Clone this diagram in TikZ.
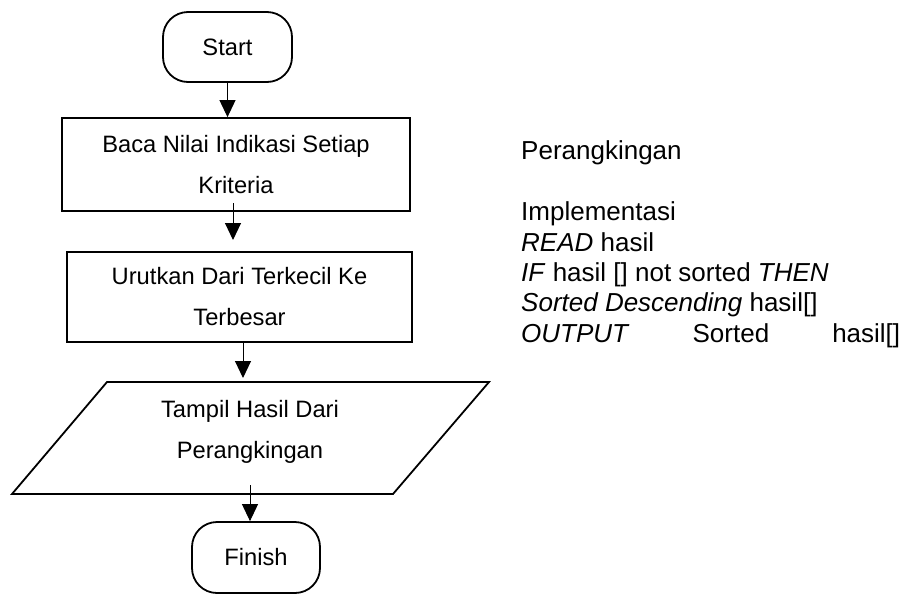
\documentclass[tikz,border=0pt]{standalone}
\usepackage{fontspec}
\setmainfont{Liberation Sans}
\usetikzlibrary{arrows.meta}
\begin{document}
\begin{tikzpicture}[x=1pt,y=-1pt,
  flowtext/.style={font=\fontsize{23.7}{41}\selectfont, align=center, inner sep=0pt},
  terminal/.style={flowtext, draw, line width=1.8pt, rounded corners=25pt},
  process/.style={flowtext, draw, line width=1.8pt},
  arr/.style={line width=1pt, -{Triangle[length=17pt,width=16pt]}},
  codeline/.style={font=\fontsize{26}{30}\selectfont, anchor=base west, inner sep=0pt}]
\useasboundingbox (0,0) rectangle (911,595);

% flowchart blocks
\node[terminal, minimum width=129, minimum height=70] (start) at (227.5,47) {Start};
\node[process, minimum width=348, minimum height=93] (b1) at (236,164.5)
  {Baca Nilai Indikasi Setiap\\Kriteria};
\node[process, minimum width=345, minimum height=90] (b2) at (239.5,297)
  {Urutkan Dari Terkecil Ke\\Terbesar};

% input/output parallelogram
\coordinate (pTL) at (107,382);
\coordinate (pTR) at (489,382);
\coordinate (pBR) at (393,494);
\coordinate (pBL) at (12,494);
\draw[line width=1.8pt, line join=miter] (pTL) -- (pTR) -- (pBR) -- (pBL) -- cycle;
\node[flowtext] (out) at (250,432) {Tampil Hasil Dari\\Perangkingan};

\node[terminal, minimum width=128, minimum height=71] (fin) at (256,557.5) {Finish};

% connectors
\coordinate (a2start) at (233,203);
\coordinate (a2end) at (233,240);
\coordinate (a3end) at (243,378);
\coordinate (a4start) at (250,485);
\draw[arr] (start.south) -- (start.south |- b1.north);
\draw[arr] (a2start) -- (a2end);
\draw[arr] (b2.south -| a3end) -- (a3end);
\draw[arr] (a4start) -- (a4start |- fin.north);

% ranking pseudocode
\node[codeline] (title) at (521,159) {Perangkingan};
\node[codeline] (l1) at (521,220) {Implementasi};
\node[codeline] (l2) at (521,251) {\textit{READ} hasil};
\node[codeline] (l3) at (521,281) {\textit{IF} hasil [] not sorted \textit{THEN}};
\node[codeline] (l4) at (521,311) {\textit{Sorted Descending} hasil[]};
\node[codeline] (l5) at (521,342) {\makebox[379pt][s]{\textit{OUTPUT} Sorted hasil[]}};
\end{tikzpicture}
\end{document}
